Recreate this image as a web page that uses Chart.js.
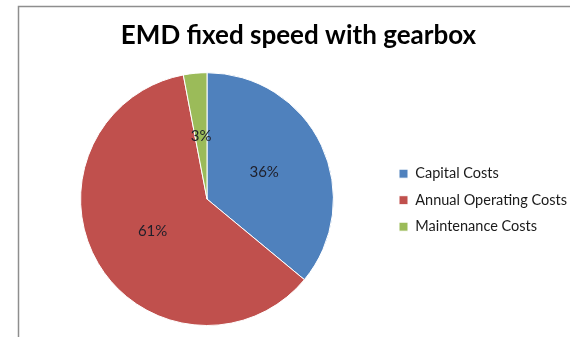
<!DOCTYPE html>
<html>
<head>
<meta charset="utf-8">
<script src="https://cdn.jsdelivr.net/npm/chart.js@4"></script>
<style>
  html, body { margin: 0; padding: 0; background: #ffffff; }
  #wrap { position: absolute; left: 0; top: 0; width: 570px; height: 337px; }
</style>
</head>
<body>
<div id="wrap"><canvas id="c" width="570" height="337"></canvas></div>
<script>
// Cost breakdown, EMD fixed speed drive with gearbox (percent of total)
const categories = ['Capital Costs', 'Annual Operating Costs', 'Maintenance Costs'];
const shares = [36, 61, 3];
const chartTitle = 'EMD fixed speed with gearbox';

// Thin grey frame along the left and top edges of the chart
const framePlugin = {
  id: 'frame',
  beforeDraw(chart) {
    const ctx = chart.ctx;
    ctx.save();
    ctx.strokeStyle = '#8e8e8e';
    ctx.lineWidth = 1.5;
    ctx.beginPath();
    ctx.moveTo(18.5, 337);
    ctx.lineTo(18.5, 6.5);
    ctx.lineTo(570, 6.5);
    ctx.stroke();
    ctx.restore();
  }
};

// Percentage labels placed half way out along each slice
const percentLabels = {
  id: 'percentLabels',
  afterDatasetsDraw(chart) {
    const ctx = chart.ctx;
    const meta = chart.getDatasetMeta(0);
    const values = chart.data.datasets[0].data;
    ctx.save();
    ctx.font = '15px Lato, "Open Sans", sans-serif';
    ctx.fillStyle = '#1f1f2a';
    ctx.textAlign = 'center';
    ctx.textBaseline = 'middle';
    meta.data.forEach((arc, i) => {
      const p = arc.tooltipPosition();
      ctx.fillText(values[i] + '%', p.x, p.y);
    });
    ctx.restore();
  }
};

new Chart(document.getElementById('c'), {
  type: 'pie',
  data: {
    labels: categories,
    datasets: [{
      data: shares,
      backgroundColor: ['#4F81BD', '#C0504D', '#9BBB59'],
      borderColor: '#ffffff',
      borderWidth: 1
    }]
  },
  options: {
    responsive: false,
    devicePixelRatio: 1,
    animation: false,
    layout: { padding: { left: 27, top: 7, right: 0, bottom: 11 } },
    plugins: {
      title: {
        display: true,
        text: chartTitle,
        color: '#000000',
        font: { family: 'Lato, "Open Sans", sans-serif', size: 26, weight: 'bold' },
        padding: { top: 13, bottom: 21 }
      },
      legend: {
        position: 'right',
        align: 'center',
        maxWidth: 183,
        // empty heading used only as a spacer that lowers the item column
        title: { display: true, text: '', padding: { top: 0, bottom: 53 } },
        labels: {
          color: '#1a1a1a',
          font: { family: 'Lato, "Open Sans", sans-serif', size: 14.5 },
          boxWidth: 9,
          boxHeight: 9,
          padding: 12
        }
      },
      tooltip: { enabled: false }
    }
  },
  plugins: [framePlugin, percentLabels]
});
</script>
</body>
</html>
